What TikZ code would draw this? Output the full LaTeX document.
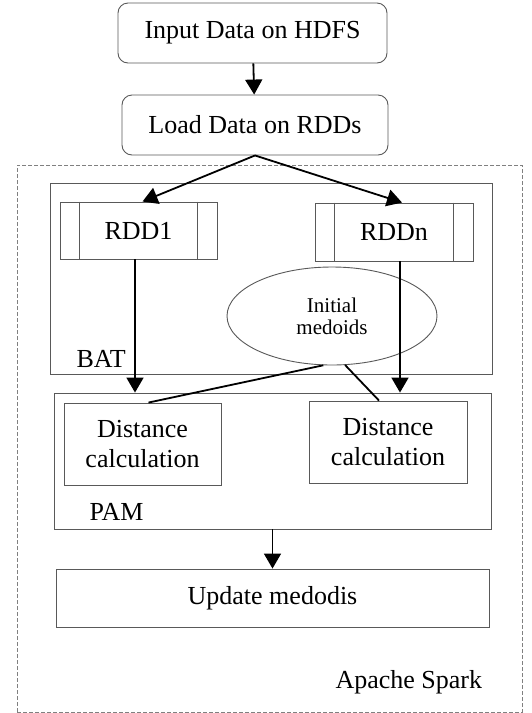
\documentclass[tikz,border=0pt]{standalone}
\usepackage{fontspec}
\setmainfont{Liberation Serif}
\usepackage{tikz}
\usetikzlibrary{shapes.geometric,arrows.meta,positioning}

\begin{document}
\begin{tikzpicture}[x=1pt, y=-1pt,
    font=\fontsize{26}{30}\selectfont,
    outl/.style={draw=black!65, line width=0.9pt},
    rbox/.style={outl, rounded corners=10pt, align=center, inner sep=0pt},
    pbox/.style={outl, align=center, inner sep=0pt},
    flow/.style={-{Triangle[length=15pt,width=17pt]}, line width=1.8pt},
    link/.style={line width=1.8pt}]

\useasboundingbox (0,0) rectangle (532,713);

% Outer Spark frame
\node (spark) at (269.5, 438.5) [draw=black!50, line width=0.9pt,
      dash pattern=on 4pt off 2pt, minimum width=505pt, minimum height=547pt] {};
\node (sparkl) at (332, 688) [anchor=base west] {Apache Spark};

% Input stages
\node (hdfs) at (252.5, 33) [rbox, minimum width=269pt, minimum height=60pt]
      {Input Data on HDFS};
\node (load) at (255, 125) [rbox, minimum width=266pt, minimum height=60pt]
      {Load Data on RDDs};

% BAT and PAM containers
\node (bat) at (271, 278.5) [pbox, minimum width=442pt, minimum height=191pt] {};
\node (batl) at (73, 367) [anchor=base west] {BAT};
\node (pam) at (272.5, 461) [pbox, minimum width=437pt, minimum height=136pt] {};
\node (paml) at (86, 520) [anchor=base west] {PAM};

% RDD blocks
\node (rddone) at (138.5, 230.5) [pbox, minimum width=157pt, minimum height=57pt] {RDD1};
\node (rddn) at (394, 232) [pbox, minimum width=158pt, minimum height=58pt] {RDDn};
\foreach \r in {rddone, rddn} {
  \draw[outl] ([xshift=20pt]\r.north west) -- ([xshift=20pt]\r.south west);
  \draw[outl] ([xshift=-20pt]\r.north east) -- ([xshift=-20pt]\r.south east);
}

% Medoids
\node (med) at (332, 316) [ellipse, outl, minimum width=210pt, minimum height=98pt,
      inner sep=0pt, align=center, font=\fontsize{21}{22}\selectfont]
      {Initial\\medoids};

% Distance blocks
\node (done) at (142.5, 444) [pbox, minimum width=157pt, minimum height=82pt]
      {Distance\\calculation};
\node (dtwo) at (388, 442) [pbox, minimum width=158pt, minimum height=82pt]
      {Distance\\calculation};

\node (upd) at (272.5, 598) [pbox, minimum width=433pt, minimum height=58pt]
      {Update medodis};

% Connectors
\draw[flow] (hdfs) -- (load);
\draw[flow] (load.south) -- ([xshift=4pt]rddone.north);
\draw[flow] (load.south) -- ([xshift=8pt]rddn.north);
\draw[flow] ([xshift=-3.5pt]rddone.south) -- ([xshift=-3.5pt]rddone.south |- pam.north);
\draw[flow] ([xshift=6pt]rddn.south) -- ([xshift=6pt]rddn.south |- pam.north);
\draw[link] (med.260) -- ([xshift=6pt]done.north);
\draw[link] (med.285) -- ([xshift=-9pt]dtwo.north);
\draw[flow] (pam) -- (upd);

\end{tikzpicture}
\end{document}
